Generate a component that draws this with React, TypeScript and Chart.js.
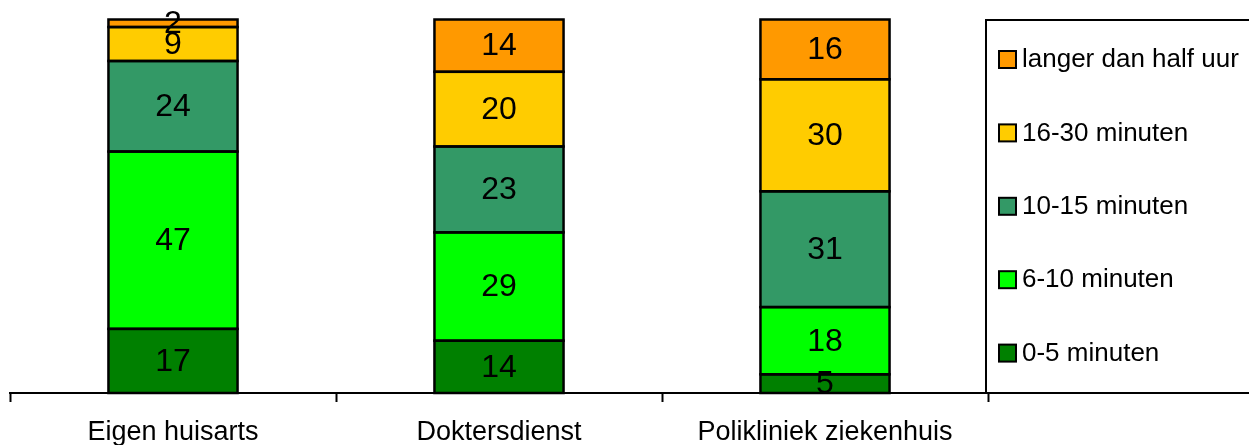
import React, { useEffect, useRef } from "react";
import { Chart, registerables } from "chart.js";

Chart.register(...registerables);

const categories = ["Eigen huisarts", "Doktersdienst", "Polikliniek ziekenhuis"];
const seriesNames = ["0-5 minuten", "6-10 minuten", "10-15 minuten", "16-30 minuten", "langer dan half uur"];
const values0to5 = [17, 14, 5];
const values6to10 = [47, 29, 18];
const values10to15 = [24, 23, 31];
const values16to30 = [9, 20, 30];
const valuesLonger = [2, 14, 16];
const seriesColors = ["#008000", "#00FF00", "#339966", "#FFCC00", "#FF9900"];

const FONT = "'Liberation Sans', Arial, Helvetica, sans-serif";

export default function App() {
  const ref = useRef<HTMLCanvasElement>(null);

  useEffect(() => {
    const allValues = [values0to5, values6to10, values10to15, values16to30, valuesLonger];
    const totals = categories.map((_, i) => allValues.reduce((s, arr) => s + arr[i], 0));

    const datasets = allValues.map((arr, k) => ({
      label: seriesNames[k],
      data: arr.map((v, i) => (v / totals[i]) * 100),
      backgroundColor: seriesColors[k],
      borderWidth: 0,
      inflateAmount: 0,
      barPercentage: 0.396,
      categoryPercentage: 1,
    }));

    const outlinesAndLabels = {
      id: "outlinesAndLabels",
      afterDatasetsDraw(chart: any) {
        const ctx = chart.ctx;
        ctx.save();
        ctx.strokeStyle = "#000";
        ctx.lineWidth = 2.5;
        chart.data.datasets.forEach((_: any, di: number) => {
          const meta = chart.getDatasetMeta(di);
          meta.data.forEach((el: any) => {
            const top = Math.min(el.y, el.base);
            const h = Math.abs(el.base - el.y);
            ctx.strokeRect(el.x - el.width / 2, top, el.width, h);
          });
        });
        ctx.fillStyle = "#000";
        ctx.font = `32px ${FONT}`;
        ctx.textAlign = "center";
        ctx.textBaseline = "middle";
        chart.data.datasets.forEach((_: any, di: number) => {
          const meta = chart.getDatasetMeta(di);
          meta.data.forEach((el: any, i: number) => {
            const y = (el.y + el.base) / 2;
            ctx.fillText(String(allValues[di][i]), el.x, y + 1);
          });
        });
        ctx.restore();
      },
    };

    const boxLegend = {
      id: "boxLegend",
      afterDraw(chart: any) {
        const ctx = chart.ctx;
        ctx.save();
        ctx.strokeStyle = "#000";
        ctx.lineWidth = 2;
        ctx.strokeRect(986, 20, 400, 373);
        const n = chart.data.datasets.length;
        ctx.font = `26px ${FONT}`;
        ctx.textBaseline = "middle";
        ctx.textAlign = "left";
        for (let j = 0; j < n; j++) {
          const ds = chart.data.datasets[n - 1 - j];
          const cy = 59 + j * 73.4;
          ctx.fillStyle = ds.backgroundColor;
          ctx.fillRect(999, cy - 8, 17, 17);
          ctx.lineWidth = 2;
          ctx.strokeRect(999, cy - 8, 17, 17);
          ctx.fillStyle = "#000";
          ctx.fillText(ds.label, 1022, cy + 1);
        }
        ctx.restore();
      },
    };

    const chart = new Chart(ref.current!, {
      type: "bar",
      data: { labels: categories, datasets },
      options: {
        animation: false,
        responsive: false,
        maintainAspectRatio: false,
        layout: { padding: { left: 10, right: 261, top: 19.5, bottom: 0 } },
        plugins: { legend: { display: false }, tooltip: { enabled: false } },
        scales: {
          x: {
            stacked: true,
            offset: true,
            grid: {
              offset: true,
              drawOnChartArea: false,
              drawTicks: true,
              tickLength: 9,
              tickWidth: 2,
              tickColor: "#000",
            },
            border: { display: true, color: "#000", width: 2 },
            ticks: {
              color: "#000",
              font: { family: FONT, size: 27 },
              padding: 14,
              maxRotation: 0,
              autoSkip: false,
            },
            afterFit(scale: any) {
              scale.height = 52;
            },
          },
          y: {
            stacked: true,
            display: false,
            min: 0,
            max: 100,
          },
        },
      },
      plugins: [outlinesAndLabels, boxLegend],
    });
    return () => chart.destroy();
  }, []);

  return (
    <div style={{ position: "fixed", left: 0, top: 0, width: 1249, height: 445, background: "#fff" }}>
      <canvas ref={ref} width={1249} height={445} style={{ width: 1249, height: 445 }} />
    </div>
  );
}
